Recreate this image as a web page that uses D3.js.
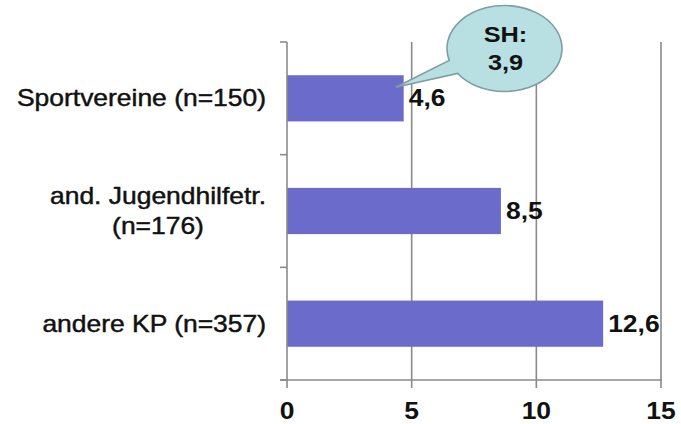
<!DOCTYPE html>
<html>
<head>
<meta charset="utf-8">
<script src="https://cdn.jsdelivr.net/npm/d3@7"></script>
<style>
  html, body { margin: 0; padding: 0; background: #fff; }
  svg { display: block; }
  text { font-family: "Liberation Sans", Arial, sans-serif; fill: #111; }
</style>
</head>
<body>
<svg id="chart" width="681" height="424"></svg>
<script>
// Categories (each entry is a list of label lines), values and axis ticks
const categories = ["Sportvereine (n=150)", "and. Jugendhilfetr. (n=176)", "andere KP (n=357)"];
const categoryLines = [["Sportvereine (n=150)"], ["and. Jugendhilfetr.", "(n=176)"], ["andere KP (n=357)"]];
const values = [4.6, 8.5, 12.6];
const valueLabels = ["4,6", "8,5", "12,6"];
const xTicks = [0, 5, 10, 15];
const calloutLines = ["SH:", "3,9"];

const svg = d3.select("#chart");
const margin = { left: 287, right: 20, top: 42, bottom: 44 };
const W = 681, H = 424;
const stretch = 1.15;   // wide lettering

const x = d3.scaleLinear().domain([0, 15]).range([margin.left, 661]);
const y = d3.scaleBand().domain(categories).range([margin.top, H - margin.bottom])
  .paddingInner(0.59).paddingOuter(0.295);

const gridColor = "#8a8a8a";
const y0 = y.range()[1];

// horizontal text helper with horizontal stretch
function stext(g, tx, ty, str, opts) {
  const t = g.append("text")
    .attr("transform", `translate(${tx},${ty}) scale(${stretch},1)`)
    .attr("text-anchor", opts.anchor || "start")
    .attr("font-size", opts.size || 23)
    .attr("font-weight", opts.weight || "normal")
    .text(str);
  if (opts.heavy) t.attr("stroke", "#111").attr("stroke-width", 0.45);
  return t;
}

// vertical gridlines (with ticks below the axis)
svg.append("g").selectAll("line").data(xTicks.filter(d => d > 0)).join("line")
  .attr("x1", d => x(d)).attr("x2", d => x(d))
  .attr("y1", margin.top).attr("y2", y0 + 8)
  .attr("stroke", gridColor).attr("stroke-width", 1.6);

// bars
svg.append("g").selectAll("rect").data(values).join("rect")
  .attr("x", x(0))
  .attr("y", (d, i) => y(categories[i]))
  .attr("width", d => x(d) - x(0) + 2)
  .attr("height", y.bandwidth())
  .attr("fill", "#6b6bcc");

// left axis line + category boundary ticks
const step = y.step();
const bounds = d3.range(categories.length + 1).map(i => margin.top + i * step);
svg.append("line").attr("x1", x(0)).attr("x2", x(0))
  .attr("y1", margin.top).attr("y2", y0 + 8)
  .attr("stroke", gridColor).attr("stroke-width", 1.6);
svg.append("g").selectAll("line").data(bounds).join("line")
  .attr("x1", x(0) - 7).attr("x2", x(0))
  .attr("y1", d => d).attr("y2", d => d)
  .attr("stroke", gridColor).attr("stroke-width", 1.6);

// bottom axis line
svg.append("line").attr("x1", x(0) - 7).attr("x2", x(15) + 1)
  .attr("y1", y0).attr("y2", y0)
  .attr("stroke", gridColor).attr("stroke-width", 1.6);

// x tick labels
const tg = svg.append("g");
xTicks.forEach(t => stext(tg, x(t), 419, String(t), { anchor: "middle", weight: "bold" }));

// value labels
const vg = svg.append("g");
values.forEach((v, i) => {
  const cy = y(categories[i]) + y.bandwidth() / 2;
  stext(vg, x(v) + 7, cy + 8, valueLabels[i], { weight: "bold" });
});

// category labels, right aligned; multi-line labels centred as a block
const lg = svg.append("g");
const labelRight = 266;
categoryLines.forEach((lines, i) => {
  const cy = y(categories[i]) + y.bandwidth() / 2;
  const lh = 30;
  if (lines.length === 1) {
    stext(lg, labelRight, cy + 8, lines[0], { anchor: "end", heavy: true });
  } else {
    const temps = lines.map(l => stext(lg, 0, -100, l, {}));
    const maxW = d3.max(temps, t => t.node().getComputedTextLength()) * stretch;
    temps.forEach(t => t.remove());
    const cx = labelRight - maxW / 2;
    lines.forEach((l, j) => {
      const ly = cy + 8 + (j - (lines.length - 1) / 2) * lh;
      stext(lg, cx, ly, l, { anchor: "middle", heavy: true });
    });
  }
});

// speech-bubble callout pointing at the first bar's end
const cg = svg.append("g");
const ecx = 504.5, ecy = 48.5, rx = 57.5, ry = 43;
const pt = a => [ecx + rx * Math.cos(a * Math.PI / 180), ecy + ry * Math.sin(a * Math.PI / 180)];
const tip = [x(values[0]) - 6, y(categories[0]) + 12];
const a1 = pt(164), a2 = pt(144.5);
cg.append("path")
  .attr("d", `M${a1[0]},${a1[1]} A${rx},${ry} 0 1 1 ${a2[0]},${a2[1]} L${tip[0]},${tip[1]} Z`)
  .attr("fill", "#b8dfe2")
  .attr("stroke", "#7f9ea1")
  .attr("stroke-width", 1.6);
calloutLines.forEach((l, j) => stext(cg, ecx + 1, 42 + j * 28, l, { anchor: "middle", weight: "bold", size: 22 }));
</script>
</body>
</html>
